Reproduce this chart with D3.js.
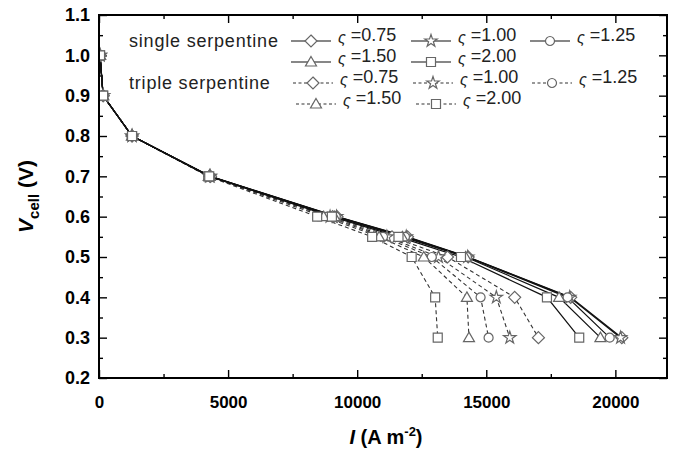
<!DOCTYPE html>
<html><head><meta charset="utf-8">
<script src="https://cdn.jsdelivr.net/npm/d3@7"></script>
<style>
body{margin:0;background:#fff}
svg{display:block}
text{font-family:Arial,"Liberation Sans",sans-serif}
</style>
</head><body>
<svg id="c" width="676" height="454"></svg>
<script>
// ---- data ----
const voltages   = [1.0, 0.9, 0.8, 0.7, 0.6, 0.55, 0.5, 0.4, 0.3];
const single_075 = [40, 160, 1280, 4320, 9220, 11950, 14300, 18270, 20250];
const single_100 = [40, 160, 1280, 4310, 9200, 11900, 14280, 18230, 20200];
const single_125 = [40, 160, 1280, 4300, 9170, 11850, 14250, 18150, 19780];
const single_150 = [40, 160, 1280, 4290, 9120, 11750, 14200, 17820, 19420];
const single_200 = [40, 160, 1280, 4270, 9020, 11600, 14020, 17350, 18600];
const triple_075 = [40, 160, 1280, 4300, 9050, 11350, 13500, 16100, 17020];
const triple_100 = [40, 160, 1280, 4280, 8950, 11150, 13150, 15390, 15910];
const triple_125 = [40, 160, 1280, 4270, 8850, 11000, 12890, 14780, 15090];
const triple_150 = [40, 160, 1280, 4250, 8700, 10850, 12580, 14250, 14330];
const triple_200 = [40, 160, 1280, 4230, 8450, 10580, 12110, 13020, 13120];
const stoich     = ["0.75", "1.00", "1.25", "1.50", "2.00"];
const markers    = ["diamond", "star", "circle", "triangle", "square"];
const xMajor = [0, 5000, 10000, 15000, 20000];
const xMinor = [2500, 7500, 12500, 17500];
const yMajor = [0.2, 0.3, 0.4, 0.5, 0.6, 0.7, 0.8, 0.9, 1.0, 1.1];
const yMinor = [0.25, 0.35, 0.45, 0.55, 0.65, 0.75, 0.85, 0.95, 1.05];

const singles = [single_075, single_100, single_125, single_150, single_200];
const triples = [triple_075, triple_100, triple_125, triple_150, triple_200];

// ---- layout ----
const m = {l: 99, t: 15, r: 667, b: 378};
const x = d3.scaleLinear().domain([0, 22000]).range([m.l, m.r]);
const y = d3.scaleLinear().domain([0.2, 1.1]).range([m.b, m.t]);
const svg = d3.select("#c");

svg.append("defs").append("clipPath").attr("id", "pc")
  .append("rect").attr("x", m.l).attr("y", m.t).attr("width", m.r - m.l).attr("height", m.b - m.t);

function markerPath(type) {
  switch (type) {
    case "diamond": return "M0,-6L6,0L0,6L-6,0Z";
    case "square": return "M-4.5,-4.5h9v9h-9Z";
    case "triangle": return "M0,-5.5L5.5,4L-5.5,4Z";
    case "circle": return d3.symbol(d3.symbolCircle, 64)();
    case "star": return d3.symbol(d3.symbolStar, 48)();
  }
}

// ---- axes ----
function styleAxis(g) { g.select(".domain").remove(); g.selectAll("line").attr("stroke", "#000").attr("stroke-width", 1.4); }
svg.append("g").attr("transform", `translate(0,${m.b})`)
  .call(d3.axisBottom(x).tickValues(xMajor).tickSize(-8).tickPadding(18).tickFormat(d3.format("d")))
  .call(styleAxis)
  .selectAll("text").attr("font-size", 17).attr("font-weight", "bold").attr("fill", "#000");
svg.append("g").attr("transform", `translate(0,${m.b})`)
  .call(d3.axisBottom(x).tickValues(xMinor).tickSize(-4).tickFormat(""))
  .call(styleAxis);
svg.append("g").attr("transform", `translate(0,${m.t})`)
  .call(d3.axisTop(x).tickValues(xMajor).tickSize(-8).tickFormat(""))
  .call(styleAxis);
svg.append("g").attr("transform", `translate(0,${m.t})`)
  .call(d3.axisTop(x).tickValues(xMinor).tickSize(-4).tickFormat(""))
  .call(styleAxis);
svg.append("g").attr("transform", `translate(${m.l},0)`)
  .call(d3.axisLeft(y).tickValues(yMajor).tickSize(-8).tickPadding(9).tickFormat(d3.format(".1f")))
  .call(styleAxis)
  .selectAll("text").attr("font-size", 18).attr("font-weight", "bold").attr("fill", "#000");
svg.append("g").attr("transform", `translate(${m.l},0)`)
  .call(d3.axisLeft(y).tickValues(yMinor).tickSize(-4).tickFormat(""))
  .call(styleAxis);
svg.append("g").attr("transform", `translate(${m.r},0)`)
  .call(d3.axisRight(y).tickValues(yMajor).tickSize(-8).tickFormat(""))
  .call(styleAxis);
svg.append("g").attr("transform", `translate(${m.r},0)`)
  .call(d3.axisRight(y).tickValues(yMinor).tickSize(-4).tickFormat(""))
  .call(styleAxis);

// ---- series ----
const line = d3.line().x(d => x(d[0])).y(d => y(d[1]));
const plot = svg.append("g").attr("clip-path", "url(#pc)");
function drawSeries(arr, dashed) {
  const pts = arr.map((v, i) => [v, voltages[i]]);
  plot.append("path").datum(pts).attr("d", line).attr("fill", "none")
    .attr("stroke", dashed ? "#333" : "#111").attr("stroke-width", dashed ? 1.1 : 1.2)
    .attr("stroke-dasharray", dashed ? "4,3" : null);
  return pts;
}
const allPts = [];
triples.forEach((arr, k) => allPts.push([drawSeries(arr, true), markers[k]]));
singles.forEach((arr, k) => allPts.push([drawSeries(arr, false), markers[k]]));
allPts.forEach(([pts, mk]) => {
  plot.selectAll(null).data(pts).enter().append("path")
    .attr("d", markerPath(mk))
    .attr("transform", d => `translate(${x(d[0])},${y(d[1])})`)
    .attr("fill", "#fff").attr("stroke", "#666").attr("stroke-width", 1.2);
});

// ---- frame ----
svg.append("rect").attr("x", m.l).attr("y", m.t).attr("width", m.r - m.l).attr("height", m.b - m.t)
  .attr("fill", "none").attr("stroke", "#000").attr("stroke-width", 2);

// ---- legend ----
const leg = svg.append("g").attr("font-size", 18).attr("fill", "#222");
function legendItem(x0, yc, mk, label, dashed) {
  leg.append("line").attr("x1", x0).attr("x2", x0 + 40).attr("y1", yc).attr("y2", yc)
    .attr("stroke", dashed ? "#333" : "#111").attr("stroke-width", 1.1)
    .attr("stroke-dasharray", dashed ? "3,2.5" : null);
  leg.append("path").attr("d", markerPath(mk)).attr("transform", `translate(${x0 + 20},${yc})`)
    .attr("fill", "#fff").attr("stroke", "#666").attr("stroke-width", 1.2);
  const t = leg.append("text").attr("x", x0 + 47).attr("y", yc).attr("dy", "0.35em");
  t.append("tspan").attr("font-style", "italic").attr("font-size", 16).attr("dy", 2).text("ς");
  t.append("tspan").attr("dy", -2).text(" =" + label);
}
leg.append("text").attr("x", 129).attr("y", 41).attr("dy", "0.35em").attr("letter-spacing", 0.8).text("single serpentine");
leg.append("text").attr("x", 129).attr("y", 83).attr("dy", "0.35em").attr("letter-spacing", 0.8).text("triple serpentine");
const rowX = [[291, 411, 530], [291, 411]];
const rowX3 = [[293, 413, 532], [296, 416]];
[0, 1, 2, 3, 4].forEach(k => {
  const r = k < 3 ? 0 : 1, c = k < 3 ? k : k - 3;
  legendItem(rowX[r][c], r === 0 ? 41 : 62, markers[k], stoich[k], false);
  legendItem(rowX3[r][c], r === 0 ? 83 : 104, markers[k], stoich[k], true);
});

// ---- axis titles ----
const xt = svg.append("text").attr("x", 386).attr("y", 444).attr("text-anchor", "middle")
  .attr("font-size", 20).attr("font-weight", "bold");
xt.append("tspan").attr("font-style", "italic").text("I");
xt.append("tspan").text(" (A m");
xt.append("tspan").attr("dy", -8).attr("font-size", 13).text("-2");
xt.append("tspan").attr("dy", 8).text(")");

const yt = svg.append("text").attr("transform", `translate(33,${(m.t + m.b) / 2}) rotate(-90)`)
  .attr("text-anchor", "middle").attr("font-size", 21).attr("font-weight", "bold");
yt.append("tspan").attr("font-style", "italic").text("V");
yt.append("tspan").attr("dy", 6).attr("font-size", 15).text("cell");
yt.append("tspan").attr("dy", -6).text(" (V)");
</script>
</body></html>
